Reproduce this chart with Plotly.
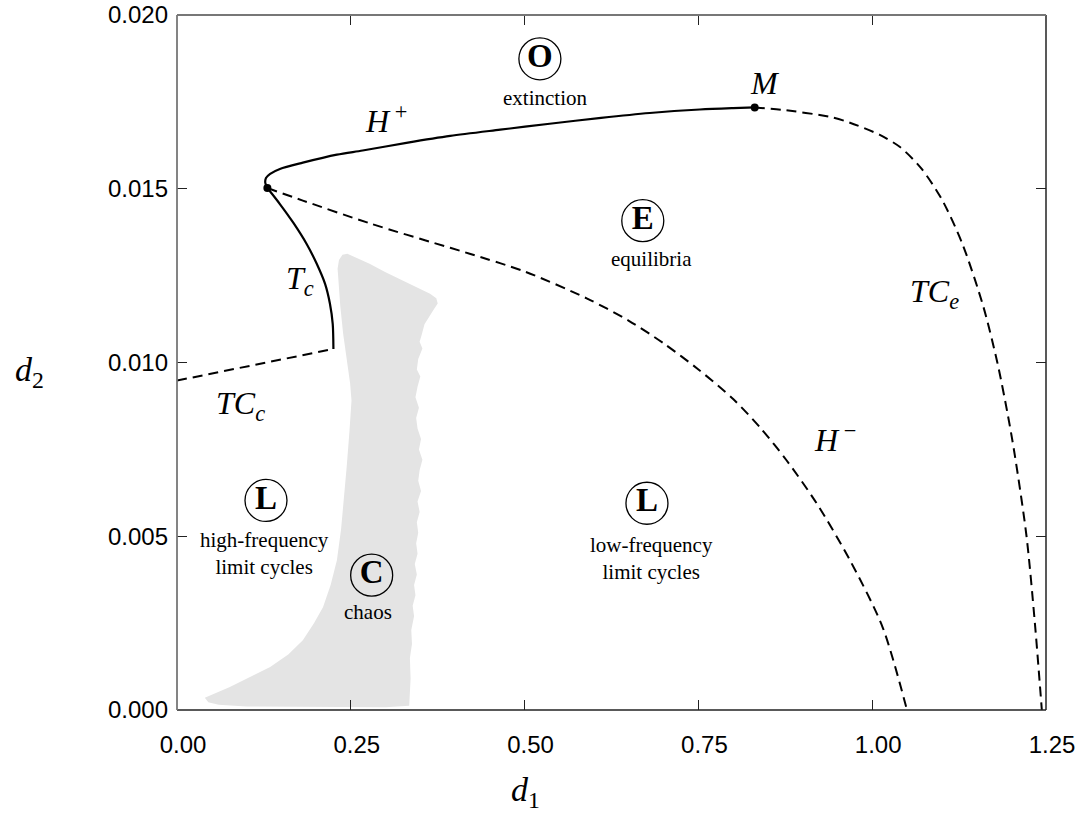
import plotly.graph_objects as go

# ---------------- data ----------------
# H+ (solid) from cusp point to M
hplus_x = [0.130, 0.127, 0.128, 0.134, 0.148, 0.181, 0.230, 0.267, 0.330, 0.393, 0.465, 0.536, 0.610, 0.680, 0.752, 0.800, 0.831]
hplus_y = [0.01502, 0.01517, 0.01531, 0.01543, 0.01557, 0.01575, 0.01598, 0.01610, 0.01632, 0.01652, 0.01670, 0.01687, 0.01704, 0.01718, 0.01728, 0.01732, 0.01734]

# T_c (solid) from cusp point down
tc_x = [0.130, 0.148, 0.167, 0.1865, 0.201, 0.213, 0.220, 0.224, 0.225]
tc_y = [0.01502, 0.01456, 0.01403, 0.01341, 0.01284, 0.01226, 0.01169, 0.01111, 0.01039]

# TC_c (dashed)
tcc_x = [0.000, 0.110, 0.225]
tcc_y = [0.00948, 0.00992, 0.01039]

# H- (dashed) from cusp point to bottom
hminus_x = [0.130, 0.181, 0.278, 0.393, 0.421, 0.500, 0.590, 0.650, 0.700, 0.750, 0.800, 0.840, 0.877, 0.920, 0.968, 1.015, 1.050]
hminus_y = [0.01502, 0.01466, 0.01400, 0.01330, 0.01313, 0.01262, 0.01184, 0.01120, 0.01055, 0.00980, 0.00895, 0.00810, 0.00718, 0.00595, 0.00431, 0.00238, 0.00000]

# TC_e (dashed) from M to bottom
tce_x = [0.831, 0.871, 0.939, 0.968, 1.011, 1.040, 1.070, 1.100, 1.130, 1.160, 1.180, 1.195, 1.205, 1.222, 1.234, 1.244]
tce_y = [0.01734, 0.01727, 0.01707, 0.01690, 0.01655, 0.01620, 0.01560, 0.01470, 0.01340, 0.01160, 0.01000, 0.00850, 0.00735, 0.00500, 0.00250, 0.00000]

# chaos region outline
chaos_x = [0.040, 0.076, 0.105, 0.134, 0.160, 0.181, 0.197, 0.210, 0.221, 0.230, 0.236, 0.240, 0.244, 0.248, 0.251, 0.249,
           0.244, 0.239, 0.235, 0.232, 0.231, 0.233, 0.238, 0.245, 0.260, 0.277, 0.300, 0.325, 0.345, 0.364, 0.373, 0.375,
           0.370, 0.362, 0.356, 0.352, 0.349, 0.353, 0.347, 0.345, 0.350, 0.346, 0.343, 0.348, 0.344, 0.346, 0.351, 0.348,
           0.353, 0.349, 0.347, 0.351, 0.346, 0.349, 0.345, 0.347, 0.344, 0.346, 0.342, 0.345, 0.341, 0.343, 0.339, 0.341,
           0.337, 0.338, 0.335, 0.336, 0.334, 0.300, 0.200, 0.100, 0.060, 0.045]
chaos_y = [0.00035, 0.00066, 0.00095, 0.00124, 0.00160, 0.00201, 0.00250, 0.00296, 0.00360, 0.00431, 0.00520, 0.00600, 0.00698, 0.00800, 0.00891, 0.00940,
           0.01010, 0.01083, 0.01160, 0.01227, 0.01270, 0.01295, 0.01310, 0.01313, 0.01300, 0.01284, 0.01260, 0.01236, 0.01218, 0.01198, 0.01185, 0.01170,
           0.01155, 0.01130, 0.01110, 0.01080, 0.01060, 0.01040, 0.01010, 0.00980, 0.00960, 0.00930, 0.00900, 0.00870, 0.00840, 0.00810, 0.00780, 0.00750,
           0.00720, 0.00690, 0.00660, 0.00630, 0.00600, 0.00570, 0.00540, 0.00510, 0.00480, 0.00450, 0.00420, 0.00390, 0.00360, 0.00330, 0.00300, 0.00270,
           0.00230, 0.00190, 0.00150, 0.00090, 0.00012, 0.00008, 0.00008, 0.00010, 0.00015, 0.00022]

# special points
pt_x = [0.130, 0.831]
pt_y = [0.01502, 0.01734]

# region markers (circled letters)
reg_letters = ["O", "E", "L", "L", "C"]
reg_x = [0.522, 0.670, 0.676, 0.128, 0.280]
reg_y = [0.01874, 0.01408, 0.00595, 0.00603, 0.00388]

# region captions
cap_text = ["extinction", "equilibria", "low-frequency<br>limit cycles", "high-frequency<br>limit cycles", "chaos"]
cap_x = [0.529, 0.683, 0.682, 0.126, 0.275]
cap_y = [0.01761, 0.01299, 0.00437, 0.00449, 0.00282]

# curve labels
lab_text = ["<i>M</i>", "<i>H</i><sup> +</sup>", "<i>T</i><sub><i>c</i></sub>", "<i>TC</i><sub><i>c</i></sub>",
            "<i>TC</i><sub><i>e</i></sub>", "<i>H</i><sup> \u2212</sup>"]
lab_x = [0.846, 0.300, 0.177, 0.091, 1.090, 0.946]
lab_y = [0.01805, 0.01700, 0.01236, 0.00876, 0.01200, 0.00784]

x_ticks = [0.00, 0.25, 0.50, 0.75, 1.00, 1.25]
x_ticklabels = ["0.00", "0.25", "0.50", "0.75", "1.00", "1.25"]
y_ticks = [0.000, 0.005, 0.010, 0.015, 0.020]
y_ticklabels = ["0.000", "0.005", "0.010", "0.015", "0.020"]

SERIF = "Liberation Serif, Times New Roman, serif"
SANS = "Liberation Sans, Arial, sans-serif"

fig = go.Figure()

fig.add_trace(go.Scatter(x=chaos_x, y=chaos_y, mode="lines", fill="toself",
                         fillcolor="#e4e4e4", line=dict(width=0, color="#e4e4e4"),
                         hoverinfo="skip", showlegend=False))

dash = "10px,6px"
fig.add_trace(go.Scatter(x=tcc_x, y=tcc_y, mode="lines", line=dict(color="black", width=2, dash=dash), showlegend=False))
fig.add_trace(go.Scatter(x=hminus_x, y=hminus_y, mode="lines", line=dict(color="black", width=2, dash=dash, shape="spline", smoothing=0.8), showlegend=False))
fig.add_trace(go.Scatter(x=tce_x, y=tce_y, mode="lines", line=dict(color="black", width=2, dash=dash, shape="spline", smoothing=0.8), showlegend=False))
fig.add_trace(go.Scatter(x=hplus_x, y=hplus_y, mode="lines", line=dict(color="black", width=2.2, shape="spline", smoothing=0.8), showlegend=False))
fig.add_trace(go.Scatter(x=tc_x, y=tc_y, mode="lines", line=dict(color="black", width=2.2, shape="spline", smoothing=0.8), showlegend=False))
fig.add_trace(go.Scatter(x=pt_x, y=pt_y, mode="markers", marker=dict(color="black", size=8), showlegend=False))

fig.add_trace(go.Scatter(x=reg_x, y=reg_y, mode="markers+text",
                         text=["<b>%s</b>" % s for s in reg_letters], textposition="middle center",
                         textfont=dict(family=SERIF, size=33, color="black"),
                         marker=dict(symbol="circle", size=42, color="rgba(0,0,0,0)",
                                     line=dict(color="black", width=1.3)),
                         showlegend=False))

for t, x, y in zip(cap_text, cap_x, cap_y):
    fig.add_annotation(x=x, y=y, text=t, showarrow=False,
                       font=dict(family=SERIF, size=21, color="black"))

for t, x, y in zip(lab_text, lab_x, lab_y):
    fig.add_annotation(x=x, y=y, text=t, showarrow=False,
                       font=dict(family=SERIF, size=32, color="black"))

# axis titles
fig.add_annotation(xref="paper", yref="paper", x=0.4005, y=-0.118, xanchor="center", yanchor="middle",
                   text="<i>d</i><sub>1</sub>", showarrow=False, font=dict(family=SERIF, size=34, color="black"))
fig.add_annotation(xref="paper", yref="paper", x=-0.189, y=0.487, xanchor="left", yanchor="middle",
                   text="<i>d</i><sub>2</sub>", showarrow=False, font=dict(family=SERIF, size=34, color="black"))

# frame
fig.add_shape(type="line", xref="paper", yref="paper", x0=0, x1=1, y0=0, y1=0, line=dict(color="#222", width=1.5))
fig.add_shape(type="line", xref="paper", yref="paper", x0=1, x1=1, y0=0, y1=1, line=dict(color="#222", width=1.5))
fig.add_shape(type="line", xref="paper", yref="paper", x0=0, x1=0, y0=0, y1=1, line=dict(color="#777", width=1.8))
fig.add_shape(type="line", xref="paper", yref="paper", x0=0, x1=1, y0=1, y1=1, line=dict(color="#777", width=1.8))

fig.update_layout(
    width=1081, height=821,
    margin=dict(l=177, r=35, t=15, b=111, autoexpand=False),
    paper_bgcolor="white", plot_bgcolor="white",
    showlegend=False,
    xaxis=dict(range=[0, 1.25], tickvals=x_ticks, ticktext=x_ticklabels, ticks="inside", ticklen=10,
               tickcolor="#222", tickwidth=1, mirror="ticks", showline=False, showgrid=False, zeroline=False,
               automargin=False,
               tickfont=dict(family=SANS, size=24, color="black"), ticklabelstandoff=18, ticklabelshift=6),
    yaxis=dict(range=[0, 0.02], tickvals=y_ticks, ticktext=y_ticklabels, ticks="inside", ticklen=10,
               tickcolor="#222", tickwidth=1, mirror="ticks", showline=False, showgrid=False, zeroline=False,
               automargin=False,
               tickfont=dict(family=SANS, size=24, color="black"), ticklabelstandoff=8),
)

fig.write_html("out.html", config={"displayModeBar": False},
               post_script="document.body.style.margin='0';document.body.style.overflow='hidden';")
